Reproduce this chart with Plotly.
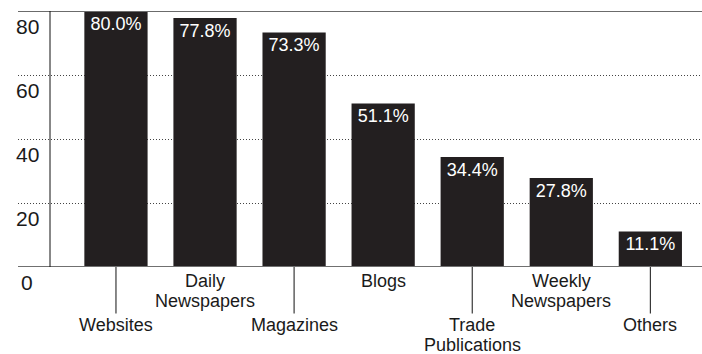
import plotly.graph_objects as go

# ---- data ----
categories = ["Websites", "Daily Newspapers", "Magazines", "Blogs",
              "Trade Publications", "Weekly Newspapers", "Others"]
category_labels = ["Websites", "Daily<br>Newspapers", "Magazines", "Blogs",
                   "Trade<br>Publications", "Weekly<br>Newspapers", "Others"]
values = [80.0, 77.8, 73.3, 51.1, 34.4, 27.8, 11.1]
y_ticks = [0, 20, 40, 60, 80]
grid_ticks = [20, 40, 60]

FONT = "Liberation Sans, Arial, Helvetica, sans-serif"
BAR = "#231f20"

fig = go.Figure()
fig.add_bar(
    x=categories, y=values, width=0.71,
    marker=dict(color=BAR, line=dict(width=0)),
    text=[f"{v:.1f}%" for v in values],
    textposition="inside", insidetextanchor="end",
    textfont=dict(color="white", size=18, family=FONT),
    constraintext="none", cliponaxis=False,
    hoverinfo="skip",
)

shapes = []
annotations = []

# top line at max and baseline
for yv, w, c in [(80, 2, "#6b6b6b"), (0, 2, "#707070")]:
    shapes.append(dict(type="line", xref="paper", x0=0, x1=1, yref="y", y0=yv, y1=yv,
                       line=dict(color=c, width=w), layer="above"))
# y axis line
shapes.append(dict(type="line", xref="paper", x0=0.0468, x1=0.0468, yref="y", y0=0, y1=80,
                   line=dict(color="#111", width=1), layer="above"))

# y tick labels
for t in y_ticks:
    annotations.append(dict(x=0.0135, xref="paper", y=t, yref="y", text=str(t),
                            showarrow=False, xanchor="center", yanchor="middle",
                            yshift=-15, font=dict(size=21, family=FONT, color="#1a1a1a")))

# category labels, alternating rows
for i, (cat, lab) in enumerate(zip(categories, category_labels)):
    lower = (i % 2 == 0)
    start = 58 if lower else 14
    for j, line in enumerate(lab.split("<br>")):
        annotations.append(dict(x=cat, xref="x", y=0, yref="y", text=line,
                                showarrow=False, xanchor="center", yanchor="middle",
                                yshift=-(start + 19.5 * j),
                                font=dict(size=18, family=FONT, color="#1a1a1a")))
    if lower:
        # leader line from the baseline down to the label
        annotations.append(dict(x=cat, xref="x", y=0, yref="y", text="",
                                showarrow=True, arrowhead=0, arrowwidth=1,
                                arrowcolor="#111", ax=0, ay=48, standoff=0,
                                startstandoff=0))

fig.update_layout(
    width=702, height=354, autosize=False,
    margin=dict(l=18, r=0, t=11, b=87, pad=0),
    plot_bgcolor="white", paper_bgcolor="white",
    showlegend=False, hovermode=False,
    xaxis=dict(type="category", range=[-1.1, 6.58], showticklabels=False,
               showgrid=False, zeroline=False, showline=False, ticks=""),
    yaxis=dict(range=[0, 80], tickvals=grid_ticks, showticklabels=False,
               showgrid=True, gridcolor="#444", gridwidth=1, griddash="1px,2px",
               zeroline=False, showline=False, ticks=""),
    shapes=shapes, annotations=annotations,
)

fig.write_html("out.html", config={"displayModeBar": False, "staticPlot": True},
               post_script="document.body.style.margin='0';document.body.style.padding='0';")
